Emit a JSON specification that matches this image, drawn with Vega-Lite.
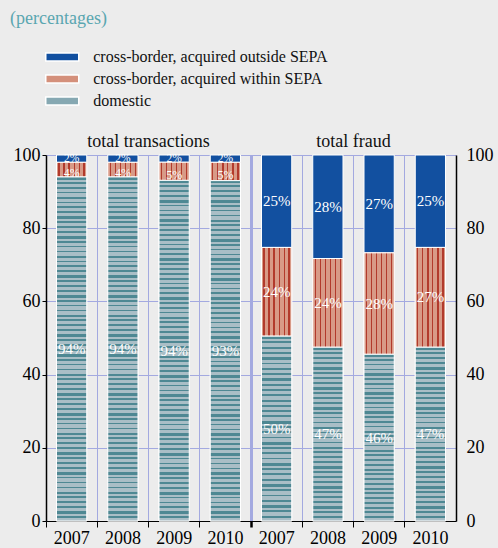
{
  "$schema": "https://vega.github.io/schema/vega-lite/v6.json",
  "width": 410,
  "height": 366,
  "autosize": "none",
  "padding": {"left": 46, "top": 155, "right": 42, "bottom": 27},
  "background": "#ececec",
  "title": {
    "text": "(percentages)",
    "anchor": "start",
    "frame": "group",
    "offset": 20,
    "dx": -36,
    "font": "Liberation Serif, Times New Roman, DejaVu Serif, serif",
    "fontSize": 18,
    "fontWeight": "normal",
    "color": "#5aa6b0"
  },
  "config": {"view": {"stroke": null}, "font": "Liberation Serif, Times New Roman, DejaVu Serif, serif"},
  "datasets": {
    "shares": [
      {"key": "transactions 2007", "group": "transactions", "series": "domestic", "rank": 1, "value": 94},
      {"key": "transactions 2007", "group": "transactions", "series": "cross-border, acquired within SEPA", "rank": 2, "value": 4},
      {"key": "transactions 2007", "group": "transactions", "series": "cross-border, acquired outside SEPA", "rank": 3, "value": 2},
      {"key": "transactions 2008", "group": "transactions", "series": "domestic", "rank": 1, "value": 94},
      {"key": "transactions 2008", "group": "transactions", "series": "cross-border, acquired within SEPA", "rank": 2, "value": 4},
      {"key": "transactions 2008", "group": "transactions", "series": "cross-border, acquired outside SEPA", "rank": 3, "value": 2},
      {"key": "transactions 2009", "group": "transactions", "series": "domestic", "rank": 1, "value": 94},
      {"key": "transactions 2009", "group": "transactions", "series": "cross-border, acquired within SEPA", "rank": 2, "value": 5},
      {"key": "transactions 2009", "group": "transactions", "series": "cross-border, acquired outside SEPA", "rank": 3, "value": 2},
      {"key": "transactions 2010", "group": "transactions", "series": "domestic", "rank": 1, "value": 93},
      {"key": "transactions 2010", "group": "transactions", "series": "cross-border, acquired within SEPA", "rank": 2, "value": 5},
      {"key": "transactions 2010", "group": "transactions", "series": "cross-border, acquired outside SEPA", "rank": 3, "value": 2},
      {"key": "fraud 2007", "group": "fraud", "series": "domestic", "rank": 1, "value": 50},
      {"key": "fraud 2007", "group": "fraud", "series": "cross-border, acquired within SEPA", "rank": 2, "value": 24},
      {"key": "fraud 2007", "group": "fraud", "series": "cross-border, acquired outside SEPA", "rank": 3, "value": 25},
      {"key": "fraud 2008", "group": "fraud", "series": "domestic", "rank": 1, "value": 47},
      {"key": "fraud 2008", "group": "fraud", "series": "cross-border, acquired within SEPA", "rank": 2, "value": 24},
      {"key": "fraud 2008", "group": "fraud", "series": "cross-border, acquired outside SEPA", "rank": 3, "value": 28},
      {"key": "fraud 2009", "group": "fraud", "series": "domestic", "rank": 1, "value": 46},
      {"key": "fraud 2009", "group": "fraud", "series": "cross-border, acquired within SEPA", "rank": 2, "value": 28},
      {"key": "fraud 2009", "group": "fraud", "series": "cross-border, acquired outside SEPA", "rank": 3, "value": 27},
      {"key": "fraud 2010", "group": "fraud", "series": "domestic", "rank": 1, "value": 47},
      {"key": "fraud 2010", "group": "fraud", "series": "cross-border, acquired within SEPA", "rank": 2, "value": 27},
      {"key": "fraud 2010", "group": "fraud", "series": "cross-border, acquired outside SEPA", "rank": 3, "value": 25}
    ]
  },
  "data": {"name": "shares"},
  "transform": [
    {"stack": "value", "groupby": ["key"], "sort": [{"field": "rank", "order": "ascending"}], "offset": "normalize", "as": ["lo", "hi"]},
    {"calculate": "(datum.lo + datum.hi) / 2", "as": "mid"},
    {"calculate": "datum.value + '%'", "as": "label"}
  ],
  "resolve": {"axis": {"x": "independent", "y": "independent"}},
  "encoding": {
    "x": {
      "field": "key", "type": "nominal",
      "scale": {"domain": ["transactions 2007", "transactions 2008", "transactions 2009", "transactions 2010", "fraud 2007", "fraud 2008", "fraud 2009", "fraud 2010"], "paddingInner": 0.41, "paddingOuter": 0.205},
      "axis": null
    }
  },
  "layer": [
    {
      "mark": {"type": "bar", "stroke": "#ffffff", "strokeWidth": 1},
      "encoding": {
        "x": {
          "field": "key", "type": "nominal",
          "scale": {"domain": ["transactions 2007", "transactions 2008", "transactions 2009", "transactions 2010", "fraud 2007", "fraud 2008", "fraud 2009", "fraud 2010"], "paddingInner": 0.41, "paddingOuter": 0.205},
          "axis": {
            "orient": "bottom", "title": null, "labelExpr": "slice(datum.value, -4)", "labelAngle": 0,
            "bandPosition": -0.347, "labelOffset": 0, "grid": true, "gridColor": "#a3a9e0",
            "gridWidth": {"condition": {"test": "datum.value === 'fraud 2007'", "value": 3}, "value": 1},
            "tickWidth": {"condition": {"test": "datum.value === 'fraud 2007'", "value": 2.5}, "value": 1},
            "domainColor": "#000000", "tickColor": "#000000", "tickSize": 6,
            "labelFont": "Liberation Serif, Times New Roman, DejaVu Serif, serif", "labelFontSize": 18, "labelColor": "#000000", "labelPadding": 2
          }
        },
        "y": {
          "field": "lo", "type": "quantitative",
          "scale": {"domain": [0, 1], "nice": false},
          "axis": {
            "orient": "left", "title": null, "values": [0, 0.2, 0.4, 0.6, 0.8, 1],
            "labelExpr": "format(datum.value * 100, 'd')",
            "grid": true, "gridColor": "#a3a9e0",
            "domainColor": "#000000", "domainWidth": 1.5, "tickColor": "#000000", "tickSize": 4,
            "labelFont": "Liberation Serif, Times New Roman, DejaVu Serif, serif", "labelFontSize": 18, "labelColor": "#000000", "labelPadding": 2
          }
        },
        "y2": {"field": "hi"},
        "fill": {
          "field": "series", "type": "nominal",
          "scale": {
            "domain": ["cross-border, acquired outside SEPA", "cross-border, acquired within SEPA", "domestic"],
            "range": ["#1250a0", "#d4907b", "#86a8b2"]
          },
          "legend": {
            "orient": "none", "legendX": 7.25, "legendY": -107, "title": null,
            "symbolType": "M-2,-0.5H2V0.5H-2Z", "symbolSize": 272,
            "symbolStrokeColor": "#ffffff", "symbolStrokeWidth": 1.5,
            "labelFont": "Liberation Serif, Times New Roman, DejaVu Serif, serif", "labelFontSize": 16, "labelColor": "#111111",
            "labelOffset": 22, "labelLimit": 400, "rowPadding": 5
          }
        }
      }
    },
    {
      "transform": [{"filter": "datum.series === 'cross-border, acquired within SEPA'"}],
      "mark": {
        "type": "bar", "stroke": "#ffffff", "strokeWidth": 1,
        "fill": {
          "gradient": "linear", "x1": 0, "y1": 0, "x2": 1, "y2": 0,
          "stops": [
            {"offset": 0, "color": "#d89a87"}, {"offset": 0.063, "color": "#d89a87"},
            {"offset": 0.063, "color": "#b23a2c"}, {"offset": 0.103, "color": "#b23a2c"},
            {"offset": 0.103, "color": "#d89a87"}, {"offset": 0.23, "color": "#d89a87"},
            {"offset": 0.23, "color": "#b23a2c"}, {"offset": 0.27, "color": "#b23a2c"},
            {"offset": 0.27, "color": "#d89a87"}, {"offset": 0.39, "color": "#d89a87"},
            {"offset": 0.39, "color": "#b23a2c"}, {"offset": 0.44, "color": "#b23a2c"},
            {"offset": 0.44, "color": "#d89a87"}, {"offset": 0.563, "color": "#d89a87"},
            {"offset": 0.563, "color": "#b23a2c"}, {"offset": 0.603, "color": "#b23a2c"},
            {"offset": 0.603, "color": "#d89a87"}, {"offset": 0.73, "color": "#d89a87"},
            {"offset": 0.73, "color": "#b23a2c"}, {"offset": 0.77, "color": "#b23a2c"},
            {"offset": 0.77, "color": "#d89a87"}, {"offset": 0.89, "color": "#d89a87"},
            {"offset": 0.89, "color": "#b23a2c"}, {"offset": 0.94, "color": "#b23a2c"},
            {"offset": 0.94, "color": "#d89a87"}, {"offset": 1, "color": "#d89a87"}
          ]
        }
      },
      "encoding": {
        "y": {"field": "lo", "type": "quantitative", "axis": null},
        "y2": {"field": "hi"}
      }
    },
    {
      "transform": [{"filter": "datum.series === 'domestic' && datum.group === 'transactions'"}],
      "mark": {
        "type": "bar", "stroke": "#ffffff", "strokeWidth": 1,
        "fill": {
          "gradient": "linear", "x1": 0, "y1": 0, "x2": 0, "y2": 1,
          "stops": [
            {"offset":0,"color":"#4e8893"},{"offset":0.008,"color":"#4e8893"},{"offset":0.008,"color":"#a9bec6"},{"offset":0.0143,"color":"#a9bec6"},
            {"offset":0.0143,"color":"#4e8893"},{"offset":0.0193,"color":"#4e8893"},{"offset":0.0193,"color":"#a9bec6"},{"offset":0.0286,"color":"#a9bec6"},
            {"offset":0.0286,"color":"#4e8893"},{"offset":0.0336,"color":"#4e8893"},{"offset":0.0336,"color":"#a9bec6"},{"offset":0.0429,"color":"#a9bec6"},
            {"offset":0.0429,"color":"#4e8893"},{"offset":0.0479,"color":"#4e8893"},{"offset":0.0479,"color":"#a9bec6"},{"offset":0.0571,"color":"#a9bec6"},
            {"offset":0.0571,"color":"#4e8893"},{"offset":0.0651,"color":"#4e8893"},{"offset":0.0651,"color":"#a9bec6"},{"offset":0.0714,"color":"#a9bec6"},
            {"offset":0.0714,"color":"#4e8893"},{"offset":0.0764,"color":"#4e8893"},{"offset":0.0764,"color":"#a9bec6"},{"offset":0.0857,"color":"#a9bec6"},
            {"offset":0.0857,"color":"#4e8893"},{"offset":0.0907,"color":"#4e8893"},{"offset":0.0907,"color":"#a9bec6"},{"offset":0.1,"color":"#a9bec6"},
            {"offset":0.1,"color":"#4e8893"},{"offset":0.105,"color":"#4e8893"},{"offset":0.105,"color":"#a9bec6"},{"offset":0.1143,"color":"#a9bec6"},
            {"offset":0.1143,"color":"#4e8893"},{"offset":0.1223,"color":"#4e8893"},{"offset":0.1223,"color":"#a9bec6"},{"offset":0.1286,"color":"#a9bec6"},
            {"offset":0.1286,"color":"#4e8893"},{"offset":0.1336,"color":"#4e8893"},{"offset":0.1336,"color":"#a9bec6"},{"offset":0.1429,"color":"#a9bec6"},
            {"offset":0.1429,"color":"#4e8893"},{"offset":0.1479,"color":"#4e8893"},{"offset":0.1479,"color":"#a9bec6"},{"offset":0.1571,"color":"#a9bec6"},
            {"offset":0.1571,"color":"#4e8893"},{"offset":0.1621,"color":"#4e8893"},{"offset":0.1621,"color":"#a9bec6"},{"offset":0.1714,"color":"#a9bec6"},
            {"offset":0.1714,"color":"#4e8893"},{"offset":0.1794,"color":"#4e8893"},{"offset":0.1794,"color":"#a9bec6"},{"offset":0.1857,"color":"#a9bec6"},
            {"offset":0.1857,"color":"#4e8893"},{"offset":0.1907,"color":"#4e8893"},{"offset":0.1907,"color":"#a9bec6"},{"offset":0.2,"color":"#a9bec6"},
            {"offset":0.2,"color":"#4e8893"},{"offset":0.205,"color":"#4e8893"},{"offset":0.205,"color":"#a9bec6"},{"offset":0.2143,"color":"#a9bec6"},
            {"offset":0.2143,"color":"#4e8893"},{"offset":0.2193,"color":"#4e8893"},{"offset":0.2193,"color":"#a9bec6"},{"offset":0.2286,"color":"#a9bec6"},
            {"offset":0.2286,"color":"#4e8893"},{"offset":0.2366,"color":"#4e8893"},{"offset":0.2366,"color":"#a9bec6"},{"offset":0.2429,"color":"#a9bec6"},
            {"offset":0.2429,"color":"#4e8893"},{"offset":0.2479,"color":"#4e8893"},{"offset":0.2479,"color":"#a9bec6"},{"offset":0.2571,"color":"#a9bec6"},
            {"offset":0.2571,"color":"#4e8893"},{"offset":0.2621,"color":"#4e8893"},{"offset":0.2621,"color":"#a9bec6"},{"offset":0.2714,"color":"#a9bec6"},
            {"offset":0.2714,"color":"#4e8893"},{"offset":0.2764,"color":"#4e8893"},{"offset":0.2764,"color":"#a9bec6"},{"offset":0.2857,"color":"#a9bec6"},
            {"offset":0.2857,"color":"#4e8893"},{"offset":0.2937,"color":"#4e8893"},{"offset":0.2937,"color":"#a9bec6"},{"offset":0.3,"color":"#a9bec6"},
            {"offset":0.3,"color":"#4e8893"},{"offset":0.305,"color":"#4e8893"},{"offset":0.305,"color":"#a9bec6"},{"offset":0.3143,"color":"#a9bec6"},
            {"offset":0.3143,"color":"#4e8893"},{"offset":0.3193,"color":"#4e8893"},{"offset":0.3193,"color":"#a9bec6"},{"offset":0.3286,"color":"#a9bec6"},
            {"offset":0.3286,"color":"#4e8893"},{"offset":0.3336,"color":"#4e8893"},{"offset":0.3336,"color":"#a9bec6"},{"offset":0.3429,"color":"#a9bec6"},
            {"offset":0.3429,"color":"#4e8893"},{"offset":0.3509,"color":"#4e8893"},{"offset":0.3509,"color":"#a9bec6"},{"offset":0.3571,"color":"#a9bec6"},
            {"offset":0.3571,"color":"#4e8893"},{"offset":0.3621,"color":"#4e8893"},{"offset":0.3621,"color":"#a9bec6"},{"offset":0.3714,"color":"#a9bec6"},
            {"offset":0.3714,"color":"#4e8893"},{"offset":0.3764,"color":"#4e8893"},{"offset":0.3764,"color":"#a9bec6"},{"offset":0.3857,"color":"#a9bec6"},
            {"offset":0.3857,"color":"#4e8893"},{"offset":0.3907,"color":"#4e8893"},{"offset":0.3907,"color":"#a9bec6"},{"offset":0.4,"color":"#a9bec6"},
            {"offset":0.4,"color":"#4e8893"},{"offset":0.408,"color":"#4e8893"},{"offset":0.408,"color":"#a9bec6"},{"offset":0.4143,"color":"#a9bec6"},
            {"offset":0.4143,"color":"#4e8893"},{"offset":0.4193,"color":"#4e8893"},{"offset":0.4193,"color":"#a9bec6"},{"offset":0.4286,"color":"#a9bec6"},
            {"offset":0.4286,"color":"#4e8893"},{"offset":0.4336,"color":"#4e8893"},{"offset":0.4336,"color":"#a9bec6"},{"offset":0.4429,"color":"#a9bec6"},
            {"offset":0.4429,"color":"#4e8893"},{"offset":0.4479,"color":"#4e8893"},{"offset":0.4479,"color":"#a9bec6"},{"offset":0.4571,"color":"#a9bec6"},
            {"offset":0.4571,"color":"#4e8893"},{"offset":0.4651,"color":"#4e8893"},{"offset":0.4651,"color":"#a9bec6"},{"offset":0.4714,"color":"#a9bec6"},
            {"offset":0.4714,"color":"#4e8893"},{"offset":0.4764,"color":"#4e8893"},{"offset":0.4764,"color":"#a9bec6"},{"offset":0.4857,"color":"#a9bec6"},
            {"offset":0.4857,"color":"#4e8893"},{"offset":0.4907,"color":"#4e8893"},{"offset":0.4907,"color":"#a9bec6"},{"offset":0.5,"color":"#a9bec6"},
            {"offset":0.5,"color":"#4e8893"},{"offset":0.505,"color":"#4e8893"},{"offset":0.505,"color":"#a9bec6"},{"offset":0.5143,"color":"#a9bec6"},
            {"offset":0.5143,"color":"#4e8893"},{"offset":0.5223,"color":"#4e8893"},{"offset":0.5223,"color":"#a9bec6"},{"offset":0.5286,"color":"#a9bec6"},
            {"offset":0.5286,"color":"#4e8893"},{"offset":0.5336,"color":"#4e8893"},{"offset":0.5336,"color":"#a9bec6"},{"offset":0.5429,"color":"#a9bec6"},
            {"offset":0.5429,"color":"#4e8893"},{"offset":0.5479,"color":"#4e8893"},{"offset":0.5479,"color":"#a9bec6"},{"offset":0.5571,"color":"#a9bec6"},
            {"offset":0.5571,"color":"#4e8893"},{"offset":0.5621,"color":"#4e8893"},{"offset":0.5621,"color":"#a9bec6"},{"offset":0.5714,"color":"#a9bec6"},
            {"offset":0.5714,"color":"#4e8893"},{"offset":0.5794,"color":"#4e8893"},{"offset":0.5794,"color":"#a9bec6"},{"offset":0.5857,"color":"#a9bec6"},
            {"offset":0.5857,"color":"#4e8893"},{"offset":0.5907,"color":"#4e8893"},{"offset":0.5907,"color":"#a9bec6"},{"offset":0.6,"color":"#a9bec6"},
            {"offset":0.6,"color":"#4e8893"},{"offset":0.605,"color":"#4e8893"},{"offset":0.605,"color":"#a9bec6"},{"offset":0.6143,"color":"#a9bec6"},
            {"offset":0.6143,"color":"#4e8893"},{"offset":0.6193,"color":"#4e8893"},{"offset":0.6193,"color":"#a9bec6"},{"offset":0.6286,"color":"#a9bec6"},
            {"offset":0.6286,"color":"#4e8893"},{"offset":0.6366,"color":"#4e8893"},{"offset":0.6366,"color":"#a9bec6"},{"offset":0.6429,"color":"#a9bec6"},
            {"offset":0.6429,"color":"#4e8893"},{"offset":0.6479,"color":"#4e8893"},{"offset":0.6479,"color":"#a9bec6"},{"offset":0.6571,"color":"#a9bec6"},
            {"offset":0.6571,"color":"#4e8893"},{"offset":0.6621,"color":"#4e8893"},{"offset":0.6621,"color":"#a9bec6"},{"offset":0.6714,"color":"#a9bec6"},
            {"offset":0.6714,"color":"#4e8893"},{"offset":0.6764,"color":"#4e8893"},{"offset":0.6764,"color":"#a9bec6"},{"offset":0.6857,"color":"#a9bec6"},
            {"offset":0.6857,"color":"#4e8893"},{"offset":0.6937,"color":"#4e8893"},{"offset":0.6937,"color":"#a9bec6"},{"offset":0.7,"color":"#a9bec6"},
            {"offset":0.7,"color":"#4e8893"},{"offset":0.705,"color":"#4e8893"},{"offset":0.705,"color":"#a9bec6"},{"offset":0.7143,"color":"#a9bec6"},
            {"offset":0.7143,"color":"#4e8893"},{"offset":0.7193,"color":"#4e8893"},{"offset":0.7193,"color":"#a9bec6"},{"offset":0.7286,"color":"#a9bec6"},
            {"offset":0.7286,"color":"#4e8893"},{"offset":0.7336,"color":"#4e8893"},{"offset":0.7336,"color":"#a9bec6"},{"offset":0.7429,"color":"#a9bec6"},
            {"offset":0.7429,"color":"#4e8893"},{"offset":0.7509,"color":"#4e8893"},{"offset":0.7509,"color":"#a9bec6"},{"offset":0.7571,"color":"#a9bec6"},
            {"offset":0.7571,"color":"#4e8893"},{"offset":0.7621,"color":"#4e8893"},{"offset":0.7621,"color":"#a9bec6"},{"offset":0.7714,"color":"#a9bec6"},
            {"offset":0.7714,"color":"#4e8893"},{"offset":0.7764,"color":"#4e8893"},{"offset":0.7764,"color":"#a9bec6"},{"offset":0.7857,"color":"#a9bec6"},
            {"offset":0.7857,"color":"#4e8893"},{"offset":0.7907,"color":"#4e8893"},{"offset":0.7907,"color":"#a9bec6"},{"offset":0.8,"color":"#a9bec6"},
            {"offset":0.8,"color":"#4e8893"},{"offset":0.808,"color":"#4e8893"},{"offset":0.808,"color":"#a9bec6"},{"offset":0.8143,"color":"#a9bec6"},
            {"offset":0.8143,"color":"#4e8893"},{"offset":0.8193,"color":"#4e8893"},{"offset":0.8193,"color":"#a9bec6"},{"offset":0.8286,"color":"#a9bec6"},
            {"offset":0.8286,"color":"#4e8893"},{"offset":0.8336,"color":"#4e8893"},{"offset":0.8336,"color":"#a9bec6"},{"offset":0.8429,"color":"#a9bec6"},
            {"offset":0.8429,"color":"#4e8893"},{"offset":0.8479,"color":"#4e8893"},{"offset":0.8479,"color":"#a9bec6"},{"offset":0.8571,"color":"#a9bec6"},
            {"offset":0.8571,"color":"#4e8893"},{"offset":0.8651,"color":"#4e8893"},{"offset":0.8651,"color":"#a9bec6"},{"offset":0.8714,"color":"#a9bec6"},
            {"offset":0.8714,"color":"#4e8893"},{"offset":0.8764,"color":"#4e8893"},{"offset":0.8764,"color":"#a9bec6"},{"offset":0.8857,"color":"#a9bec6"},
            {"offset":0.8857,"color":"#4e8893"},{"offset":0.8907,"color":"#4e8893"},{"offset":0.8907,"color":"#a9bec6"},{"offset":0.9,"color":"#a9bec6"},
            {"offset":0.9,"color":"#4e8893"},{"offset":0.905,"color":"#4e8893"},{"offset":0.905,"color":"#a9bec6"},{"offset":0.9143,"color":"#a9bec6"},
            {"offset":0.9143,"color":"#4e8893"},{"offset":0.9223,"color":"#4e8893"},{"offset":0.9223,"color":"#a9bec6"},{"offset":0.9286,"color":"#a9bec6"},
            {"offset":0.9286,"color":"#4e8893"},{"offset":0.9336,"color":"#4e8893"},{"offset":0.9336,"color":"#a9bec6"},{"offset":0.9429,"color":"#a9bec6"},
            {"offset":0.9429,"color":"#4e8893"},{"offset":0.9479,"color":"#4e8893"},{"offset":0.9479,"color":"#a9bec6"},{"offset":0.9571,"color":"#a9bec6"},
            {"offset":0.9571,"color":"#4e8893"},{"offset":0.9621,"color":"#4e8893"},{"offset":0.9621,"color":"#a9bec6"},{"offset":0.9714,"color":"#a9bec6"},
            {"offset":0.9714,"color":"#4e8893"},{"offset":0.9794,"color":"#4e8893"},{"offset":0.9794,"color":"#a9bec6"},{"offset":0.9857,"color":"#a9bec6"},
            {"offset":0.9857,"color":"#4e8893"},{"offset":0.9907,"color":"#4e8893"},{"offset":0.9907,"color":"#a9bec6"},{"offset":1,"color":"#a9bec6"}
          ]
        }
      },
      "encoding": {
        "y": {"field": "lo", "type": "quantitative", "axis": null},
        "y2": {"field": "hi"}
      }
    },
    {
      "transform": [{"filter": "datum.series === 'domestic' && datum.group === 'fraud'"}],
      "mark": {
        "type": "bar", "stroke": "#ffffff", "strokeWidth": 1,
        "fill": {
          "gradient": "linear", "x1": 0, "y1": 0, "x2": 0, "y2": 1,
          "stops": [
            {"offset":0,"color":"#4e8893"},{"offset":0.016,"color":"#4e8893"},{"offset":0.016,"color":"#a9bec6"},{"offset":0.0286,"color":"#a9bec6"},
            {"offset":0.0286,"color":"#4e8893"},{"offset":0.0386,"color":"#4e8893"},{"offset":0.0386,"color":"#a9bec6"},{"offset":0.0571,"color":"#a9bec6"},
            {"offset":0.0571,"color":"#4e8893"},{"offset":0.0671,"color":"#4e8893"},{"offset":0.0671,"color":"#a9bec6"},{"offset":0.0857,"color":"#a9bec6"},
            {"offset":0.0857,"color":"#4e8893"},{"offset":0.0957,"color":"#4e8893"},{"offset":0.0957,"color":"#a9bec6"},{"offset":0.1143,"color":"#a9bec6"},
            {"offset":0.1143,"color":"#4e8893"},{"offset":0.1303,"color":"#4e8893"},{"offset":0.1303,"color":"#a9bec6"},{"offset":0.1429,"color":"#a9bec6"},
            {"offset":0.1429,"color":"#4e8893"},{"offset":0.1529,"color":"#4e8893"},{"offset":0.1529,"color":"#a9bec6"},{"offset":0.1714,"color":"#a9bec6"},
            {"offset":0.1714,"color":"#4e8893"},{"offset":0.1814,"color":"#4e8893"},{"offset":0.1814,"color":"#a9bec6"},{"offset":0.2,"color":"#a9bec6"},
            {"offset":0.2,"color":"#4e8893"},{"offset":0.21,"color":"#4e8893"},{"offset":0.21,"color":"#a9bec6"},{"offset":0.2286,"color":"#a9bec6"},
            {"offset":0.2286,"color":"#4e8893"},{"offset":0.2446,"color":"#4e8893"},{"offset":0.2446,"color":"#a9bec6"},{"offset":0.2571,"color":"#a9bec6"},
            {"offset":0.2571,"color":"#4e8893"},{"offset":0.2671,"color":"#4e8893"},{"offset":0.2671,"color":"#a9bec6"},{"offset":0.2857,"color":"#a9bec6"},
            {"offset":0.2857,"color":"#4e8893"},{"offset":0.2957,"color":"#4e8893"},{"offset":0.2957,"color":"#a9bec6"},{"offset":0.3143,"color":"#a9bec6"},
            {"offset":0.3143,"color":"#4e8893"},{"offset":0.3243,"color":"#4e8893"},{"offset":0.3243,"color":"#a9bec6"},{"offset":0.3429,"color":"#a9bec6"},
            {"offset":0.3429,"color":"#4e8893"},{"offset":0.3589,"color":"#4e8893"},{"offset":0.3589,"color":"#a9bec6"},{"offset":0.3714,"color":"#a9bec6"},
            {"offset":0.3714,"color":"#4e8893"},{"offset":0.3814,"color":"#4e8893"},{"offset":0.3814,"color":"#a9bec6"},{"offset":0.4,"color":"#a9bec6"},
            {"offset":0.4,"color":"#4e8893"},{"offset":0.41,"color":"#4e8893"},{"offset":0.41,"color":"#a9bec6"},{"offset":0.4286,"color":"#a9bec6"},
            {"offset":0.4286,"color":"#4e8893"},{"offset":0.4386,"color":"#4e8893"},{"offset":0.4386,"color":"#a9bec6"},{"offset":0.4571,"color":"#a9bec6"},
            {"offset":0.4571,"color":"#4e8893"},{"offset":0.4731,"color":"#4e8893"},{"offset":0.4731,"color":"#a9bec6"},{"offset":0.4857,"color":"#a9bec6"},
            {"offset":0.4857,"color":"#4e8893"},{"offset":0.4957,"color":"#4e8893"},{"offset":0.4957,"color":"#a9bec6"},{"offset":0.5143,"color":"#a9bec6"},
            {"offset":0.5143,"color":"#4e8893"},{"offset":0.5243,"color":"#4e8893"},{"offset":0.5243,"color":"#a9bec6"},{"offset":0.5429,"color":"#a9bec6"},
            {"offset":0.5429,"color":"#4e8893"},{"offset":0.5529,"color":"#4e8893"},{"offset":0.5529,"color":"#a9bec6"},{"offset":0.5714,"color":"#a9bec6"},
            {"offset":0.5714,"color":"#4e8893"},{"offset":0.5874,"color":"#4e8893"},{"offset":0.5874,"color":"#a9bec6"},{"offset":0.6,"color":"#a9bec6"},
            {"offset":0.6,"color":"#4e8893"},{"offset":0.61,"color":"#4e8893"},{"offset":0.61,"color":"#a9bec6"},{"offset":0.6286,"color":"#a9bec6"},
            {"offset":0.6286,"color":"#4e8893"},{"offset":0.6386,"color":"#4e8893"},{"offset":0.6386,"color":"#a9bec6"},{"offset":0.6571,"color":"#a9bec6"},
            {"offset":0.6571,"color":"#4e8893"},{"offset":0.6671,"color":"#4e8893"},{"offset":0.6671,"color":"#a9bec6"},{"offset":0.6857,"color":"#a9bec6"},
            {"offset":0.6857,"color":"#4e8893"},{"offset":0.7017,"color":"#4e8893"},{"offset":0.7017,"color":"#a9bec6"},{"offset":0.7143,"color":"#a9bec6"},
            {"offset":0.7143,"color":"#4e8893"},{"offset":0.7243,"color":"#4e8893"},{"offset":0.7243,"color":"#a9bec6"},{"offset":0.7429,"color":"#a9bec6"},
            {"offset":0.7429,"color":"#4e8893"},{"offset":0.7529,"color":"#4e8893"},{"offset":0.7529,"color":"#a9bec6"},{"offset":0.7714,"color":"#a9bec6"},
            {"offset":0.7714,"color":"#4e8893"},{"offset":0.7814,"color":"#4e8893"},{"offset":0.7814,"color":"#a9bec6"},{"offset":0.8,"color":"#a9bec6"},
            {"offset":0.8,"color":"#4e8893"},{"offset":0.816,"color":"#4e8893"},{"offset":0.816,"color":"#a9bec6"},{"offset":0.8286,"color":"#a9bec6"},
            {"offset":0.8286,"color":"#4e8893"},{"offset":0.8386,"color":"#4e8893"},{"offset":0.8386,"color":"#a9bec6"},{"offset":0.8571,"color":"#a9bec6"},
            {"offset":0.8571,"color":"#4e8893"},{"offset":0.8671,"color":"#4e8893"},{"offset":0.8671,"color":"#a9bec6"},{"offset":0.8857,"color":"#a9bec6"},
            {"offset":0.8857,"color":"#4e8893"},{"offset":0.8957,"color":"#4e8893"},{"offset":0.8957,"color":"#a9bec6"},{"offset":0.9143,"color":"#a9bec6"},
            {"offset":0.9143,"color":"#4e8893"},{"offset":0.9303,"color":"#4e8893"},{"offset":0.9303,"color":"#a9bec6"},{"offset":0.9429,"color":"#a9bec6"},
            {"offset":0.9429,"color":"#4e8893"},{"offset":0.9529,"color":"#4e8893"},{"offset":0.9529,"color":"#a9bec6"},{"offset":0.9714,"color":"#a9bec6"},
            {"offset":0.9714,"color":"#4e8893"},{"offset":0.9814,"color":"#4e8893"},{"offset":0.9814,"color":"#a9bec6"},{"offset":1,"color":"#a9bec6"}
          ]
        }
      },
      "encoding": {
        "y": {"field": "lo", "type": "quantitative", "axis": null},
        "y2": {"field": "hi"}
      }
    },
    {
      "transform": [{"filter": "datum.value >= 10"}],
      "mark": {"type": "text", "font": "Liberation Serif, Times New Roman, DejaVu Serif, serif", "fontSize": 15, "fill": "#ffffff", "align": "center", "baseline": "middle"},
      "encoding": {
        "x": {
          "field": "key", "type": "nominal",
          "scale": {"domain": ["transactions 2007", "transactions 2008", "transactions 2009", "transactions 2010", "fraud 2007", "fraud 2008", "fraud 2009", "fraud 2010"], "paddingInner": 0.41, "paddingOuter": 0.205},
          "axis": {
            "orient": "top", "title": null, "values": ["transactions 2008", "fraud 2008"],
            "labelExpr": "datum.value === 'transactions 2008' ? 'total transactions' : 'total fraud'",
            "labelOffset": 25.6, "labelAngle": 0, "labelPadding": 5,
            "domain": false, "ticks": false, "grid": false,
            "labelFont": "Liberation Serif, Times New Roman, DejaVu Serif, serif", "labelFontSize": 18, "labelColor": "#111111"
          }
        },
        "y": {
          "field": "mid", "type": "quantitative",
          "axis": {
            "orient": "right", "title": null, "values": [0, 0.2, 0.4, 0.6, 0.8, 1],
            "labelExpr": "format(datum.value * 100, 'd')",
            "grid": false, "ticks": false,
            "domainColor": "#000000", "domainWidth": 1.5,
            "labelFont": "Liberation Serif, Times New Roman, DejaVu Serif, serif", "labelFontSize": 18, "labelColor": "#000000", "labelPadding": 10
          }
        },
        "text": {"field": "label"}
      }
    },
    {
      "transform": [{"filter": "datum.value < 10 && datum.rank === 3"}],
      "mark": {"type": "text", "font": "Liberation Serif, Times New Roman, DejaVu Serif, serif", "fontSize": 11.5, "fill": "#ffffff", "align": "center", "baseline": "middle", "dy": 0.5},
      "encoding": {
        "y": {"field": "mid", "type": "quantitative", "axis": null},
        "text": {"field": "label"}
      }
    },
    {
      "transform": [{"filter": "datum.value < 10 && datum.rank === 2"}],
      "mark": {"type": "text", "font": "Liberation Serif, Times New Roman, DejaVu Serif, serif", "fontSize": 12, "fill": "#ffffff", "align": "center", "baseline": "middle", "dy": 3.5},
      "encoding": {
        "y": {"field": "mid", "type": "quantitative", "axis": null},
        "text": {"field": "label"}
      }
    }
  ]
}
